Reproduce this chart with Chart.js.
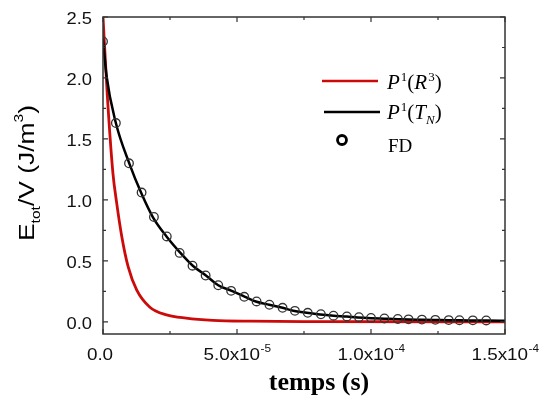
<!DOCTYPE html>
<html>
<head>
<meta charset="utf-8">
<script src="https://cdn.jsdelivr.net/npm/chart.js@4"></script>
<style>
  html, body { margin: 0; padding: 0; background: #fff; }
  #wrap { width: 543px; height: 406px; }
</style>
</head>
<body>
<div id="wrap"><canvas id="chart" width="543" height="406"></canvas></div>
<script>
// P1(R3) curve (red)
const redX = [0, 1.6e-6, 3.7e-6, 5.1e-6, 7.0e-6, 9.4e-6, 1.26e-5, 1.75e-5, 2.37e-5, 3.1e-5, 4.1e-5, 5.5e-5, 8e-5, 1.5e-4];
const redY = [2.5, 1.86, 1.22, 0.975, 0.70, 0.45, 0.26, 0.12, 0.057, 0.03, 0.012, 0.005, 0.002, 0.0];

// P1(TN) curve (black)
const blackX = [0, 1.3e-6, 4.8e-6, 9.8e-6, 1.44e-5, 1.87e-5, 2.37e-5, 2.87e-5, 3.35e-5, 3.84e-5, 4.3e-5, 4.8e-5,
  5.3e-5, 5.7e-5, 6.2e-5, 6.7e-5, 7.1e-5, 7.6e-5, 8.1e-5, 8.6e-5, 9.1e-5, 9.5e-5, 1.0e-4, 1.05e-4, 1.1e-4,
  1.14e-4, 1.19e-4, 1.24e-4, 1.29e-4, 1.33e-4, 1.38e-4, 1.43e-4, 1.5e-4];
const blackY = [2.32, 2.02, 1.63, 1.30, 1.05, 0.855, 0.70, 0.57, 0.46, 0.38, 0.30, 0.254,
  0.205, 0.167, 0.14, 0.115, 0.09, 0.074, 0.06, 0.05, 0.043, 0.036, 0.03, 0.026, 0.022,
  0.019, 0.017, 0.015, 0.013, 0.012, 0.011, 0.01, 0.009];

// FD points (circles)
const fdX = [0, 4.8e-6, 9.7e-6, 1.44e-5, 1.9e-5, 2.38e-5, 2.86e-5, 3.34e-5, 3.83e-5, 4.3e-5, 4.78e-5,
  5.27e-5, 5.73e-5, 6.21e-5, 6.7e-5, 7.16e-5, 7.64e-5, 8.13e-5, 8.6e-5, 9.1e-5, 9.55e-5,
  1.0e-4, 1.05e-4, 1.1e-4, 1.14e-4, 1.19e-4, 1.24e-4, 1.29e-4, 1.33e-4, 1.38e-4, 1.43e-4];
const fdY = [2.30, 1.63, 1.30, 1.06, 0.86, 0.70, 0.565, 0.46, 0.38, 0.30, 0.254,
  0.205, 0.167, 0.14, 0.115, 0.09, 0.074, 0.062, 0.05, 0.044, 0.038,
  0.032, 0.027, 0.023, 0.02, 0.018, 0.016, 0.014, 0.013, 0.012, 0.011];

// axis ticks
const xMajor = [0, 5e-5, 1e-4, 1.5e-4];
const xMajorLabels = [["0.0", ""], ["5.0x10", "-5"], ["1.0x10", "-4"], ["1.5x10", "-4"]];
const xMinor = [2.5e-5, 7.5e-5, 1.25e-4];
const yMajor = [0, 0.5, 1.0, 1.5, 2.0, 2.5];
const yMajorLabels = ["0.0", "0.5", "1.0", "1.5", "2.0", "2.5"];
const yMinor = [0.25, 0.75, 1.25, 1.75, 2.25];

const RED = "#cc0a0a";
const AXIS = "#333333";
const SANS = "'Liberation Sans', Arial, sans-serif";
const SERIF = "'Liberation Serif', 'Times New Roman', serif";

function pts(xs, ys) {
  return xs.map((x, i) => ({ x: x, y: ys[i] }));
}

// text stretched horizontally by sx, left aligned at x
function wideText(ctx, str, x, y, sx) {
  ctx.save();
  ctx.translate(x, y);
  ctx.scale(sx, 1);
  ctx.fillText(str, 0, 0);
  ctx.restore();
  return ctx.measureText(str).width * sx;
}

// draws frame, inward ticks, tick labels, titles and legend
const decorations = {
  id: "decorations",
  afterDraw(chart) {
    const ctx = chart.ctx;
    const a = chart.chartArea;
    const xs = chart.scales.x, ys = chart.scales.y;
    ctx.save();

    // frame
    ctx.strokeStyle = AXIS;
    ctx.lineWidth = 1.5;
    ctx.strokeRect(a.left, a.top, a.right - a.left, a.bottom - a.top);

    // ticks, pointing inward on all sides
    ctx.lineWidth = 1.2;
    ctx.beginPath();
    const xt = (v, len) => {
      const p = xs.getPixelForValue(v);
      ctx.moveTo(p, a.bottom); ctx.lineTo(p, a.bottom - len);
      ctx.moveTo(p, a.top); ctx.lineTo(p, a.top + len);
    };
    const yt = (v, len) => {
      const p = ys.getPixelForValue(v);
      ctx.moveTo(a.left, p); ctx.lineTo(a.left + len, p);
      ctx.moveTo(a.right, p); ctx.lineTo(a.right - len, p);
    };
    xMajor.forEach(v => xt(v, 5));
    xMinor.forEach(v => xt(v, 3));
    yMajor.forEach(v => yt(v, 5));
    yMinor.forEach(v => yt(v, 3));
    ctx.stroke();

    // y tick labels
    ctx.fillStyle = "#111";
    ctx.textAlign = "left";
    ctx.textBaseline = "alphabetic";
    ctx.font = "17px " + SANS;
    yMajor.forEach((v, i) => {
      const w = ctx.measureText(yMajorLabels[i]).width * 1.08;
      wideText(ctx, yMajorLabels[i], a.left - 11 - w, ys.getPixelForValue(v) + 7, 1.08);
    });

    // x tick labels with exponent
    const SX = 1.18;
    xMajor.forEach((v, i) => {
      const [base, exp] = xMajorLabels[i];
      ctx.font = "16px " + SANS;
      const wb = ctx.measureText(base).width * SX;
      ctx.font = "10px " + SANS;
      const we = exp ? ctx.measureText(exp).width * SX : 0;
      let x0 = xs.getPixelForValue(v) - (wb + we) / 2;
      if (i === 0) x0 -= 3;
      ctx.font = "16px " + SANS;
      wideText(ctx, base, x0, a.bottom + 26, SX);
      if (exp) {
        ctx.font = "10px " + SANS;
        wideText(ctx, exp, x0 + wb + 0.5, a.bottom + 18, SX);
      }
    });

    // x title
    ctx.font = "bold 26px " + SERIF;
    ctx.textAlign = "center";
    ctx.fillStyle = "#000";
    ctx.fillText("temps (s)", 319, 390);

    // y title, rotated, with sub/superscripts
    const TS = 1.2;
    const big = "22px " + SANS;
    const small = "13px " + SANS;
    const parts = [["E", big, 0], ["tot", small, 6], ["/V (J/m", big, 0], ["3", small, -11], [")", big, 0]];
    let total = 0;
    parts.forEach(p => { ctx.font = p[1]; total += ctx.measureText(p[0]).width * TS; });
    ctx.translate(34, 173);
    ctx.rotate(-Math.PI / 2);
    ctx.textAlign = "left";
    let cx = -total / 2;
    parts.forEach(p => {
      ctx.font = p[1];
      cx += wideText(ctx, p[0], cx, p[2], TS);
    });
    ctx.setTransform(1, 0, 0, 1, 0, 0);

    // legend
    const it = "italic 21px " + SERIF;
    const up = "21px " + SERIF;
    const sup = "13px " + SERIF;
    const supIt = "italic 13px " + SERIF;
    const runs = (list, x, y) => {
      list.forEach(r => {
        ctx.font = r[1];
        ctx.fillText(r[0], x, y + r[2]);
        x += ctx.measureText(r[0]).width + (r[3] || 0);
      });
    };
    ctx.lineWidth = 2.5;
    ctx.strokeStyle = RED;
    ctx.beginPath(); ctx.moveTo(322, 81); ctx.lineTo(378, 81); ctx.stroke();
    ctx.strokeStyle = "#000";
    ctx.beginPath(); ctx.moveTo(324, 112); ctx.lineTo(380, 112); ctx.stroke();
    ctx.lineWidth = 2.8;
    ctx.beginPath(); ctx.arc(342, 140, 4.5, 0, Math.PI * 2); ctx.stroke();

    ctx.fillStyle = "#000";
    ctx.textAlign = "left";
    runs([["P", it, 0, 1], ["1", sup, -8], ["(", up, 0], ["R", it, 0, 1], ["3", sup, -8], [")", up, 0]], 387, 89);
    runs([["P", it, 0, 1], ["1", sup, -8], ["(", up, 0], ["T", it, 0], ["N", supIt, 5], [")", up, 0]], 387, 119);
    ctx.font = "19px " + SERIF;
    ctx.fillText("FD", 388, 152);

    ctx.restore();
  }
};

new Chart(document.getElementById("chart"), {
  type: "scatter",
  data: {
    datasets: [
      {
        label: "P1(R3)",
        type: "line",
        data: pts(redX, redY),
        borderColor: RED,
        borderWidth: 2.8,
        pointRadius: 0,
        fill: false,
        cubicInterpolationMode: "monotone",
        order: 3
      },
      {
        label: "P1(TN)",
        type: "line",
        data: pts(blackX, blackY),
        borderColor: "#000",
        borderWidth: 2.5,
        pointRadius: 0,
        fill: false,
        cubicInterpolationMode: "monotone",
        order: 2
      },
      {
        label: "FD",
        data: pts(fdX, fdY),
        pointStyle: "circle",
        pointRadius: 4.3,
        pointBorderWidth: 1.3,
        pointBorderColor: "#333",
        pointBackgroundColor: "rgba(0,0,0,0)",
        order: 1
      }
    ]
  },
  options: {
    responsive: false,
    animation: false,
    layout: { padding: { left: 103, right: 38, top: 17, bottom: 72 } },
    plugins: {
      legend: { display: false },
      tooltip: { enabled: false }
    },
    scales: {
      x: {
        type: "linear",
        min: 0,
        max: 1.5e-4,
        ticks: { display: false },
        grid: { display: false, drawTicks: false },
        border: { display: false }
      },
      y: {
        type: "linear",
        min: -0.1,
        max: 2.5,
        ticks: { display: false },
        grid: { display: false, drawTicks: false },
        border: { display: false }
      }
    }
  },
  plugins: [decorations]
});
</script>
</body>
</html>
